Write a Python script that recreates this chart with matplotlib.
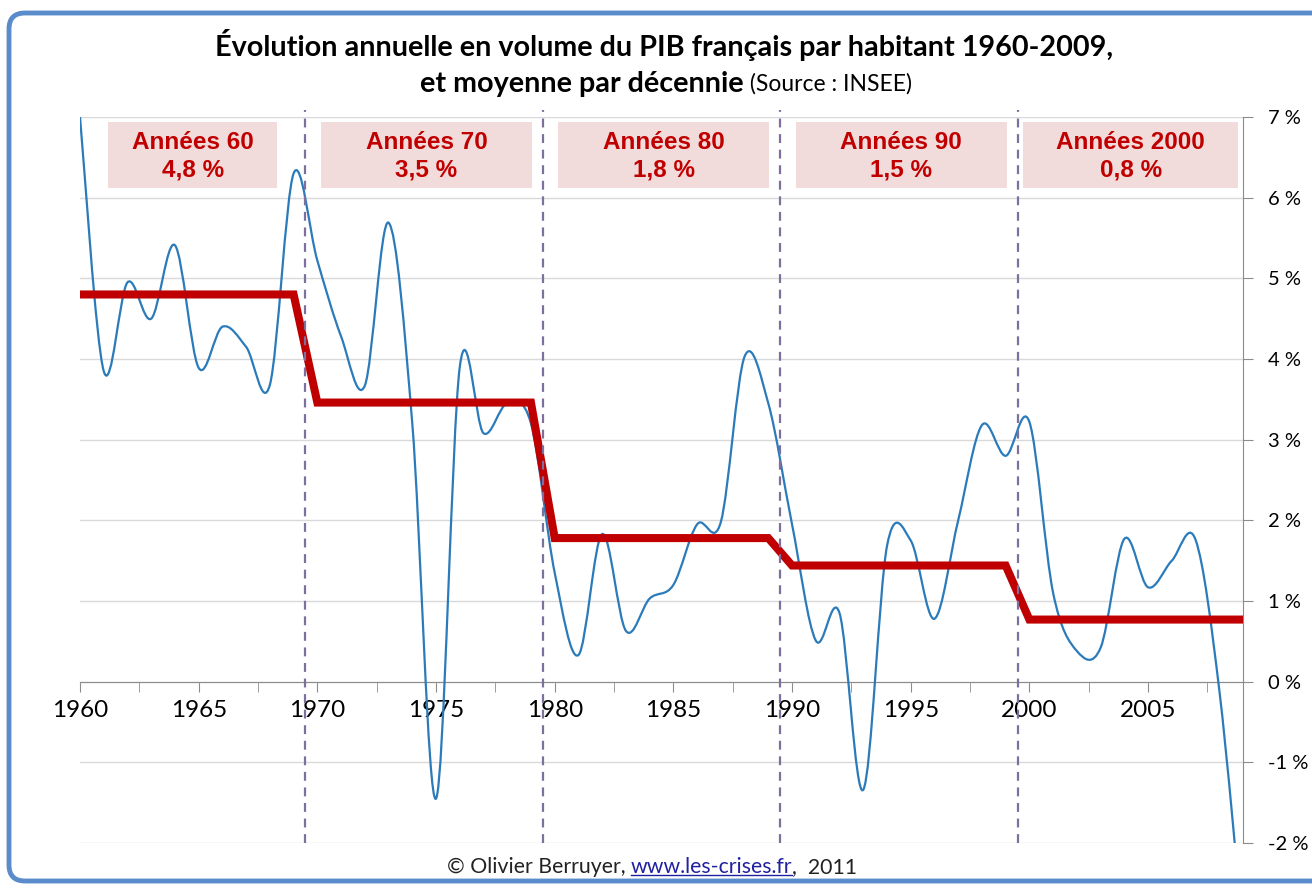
import numpy as np
import matplotlib
matplotlib.use("Agg")
import matplotlib.pyplot as plt
from matplotlib.path import Path
from matplotlib.patches import PathPatch, FancyBboxPatch, Rectangle
from matplotlib.transforms import IdentityTransform

# annual growth of French GDP per capita (volume, %)
years = list(range(1960, 2010))
growth = [7.0, 3.85, 4.95, 4.5, 5.41, 3.89, 4.40, 4.15, 3.68, 6.3,
          5.22, 4.28, 3.67, 5.69, 3.2, -1.45, 3.9, 3.08, 3.45, 3.2,
          1.35, 0.33, 1.83, 0.63, 1.03, 1.2, 1.95, 1.98, 4.03, 3.45,
          1.95, 0.51, 0.85, -1.34, 1.68, 1.75, 0.78, 2.0, 3.18, 2.8,
          3.22, 1.1, 0.38, 0.42, 1.77, 1.17, 1.5, 1.76, -0.1, -3.1]

# decade averages
decades = [1960, 1970, 1980, 1990, 2000]
decade_labels = ['Années 60', 'Années 70', 'Années 80', 'Années 90', 'Années 2000']
decade_means = [4.8, 3.46, 1.78, 1.44, 0.77]
decade_texts = ['4,8 %', '3,5 %', '1,8 %', '1,5 %', '0,8 %']

ytick_vals = list(range(-2, 8))

BLUE = '#2b7bba'
RED = '#c00000'

fig = plt.figure(figsize=(13.12, 8.88), dpi=100)
ax = fig.add_axes([80 / 1312, 1 - 843 / 888, (1243 - 80) / 1312, (843 - 117) / 888])

# smoothed line (Excel-like, Catmull-Rom as cubic Bezier segments)
pts = np.column_stack([years, growth]).astype(float)
n = len(pts)
verts = [pts[0]]
codes = [Path.MOVETO]
for i in range(n - 1):
    p0 = pts[i - 1] if i > 0 else pts[i]
    p1, p2 = pts[i], pts[i + 1]
    p3 = pts[i + 2] if i + 2 < n else pts[i + 1]
    verts += [p1 + (p2 - p0) / 6, p2 - (p3 - p1) / 6, p2]
    codes += [Path.CURVE4] * 3
ax.add_patch(PathPatch(Path(verts, codes), facecolor='none', edgecolor=BLUE,
                       lw=1.6, zorder=3))

# decade mean step line
mean_line = [decade_means[(y - 1960) // 10] for y in years]
ax.plot(years, mean_line, color=RED, lw=5.8, zorder=4, solid_joinstyle='miter')

# decade separators
for d in decades[1:]:
    ax.axvline(d - 0.5, color='#7d6f9e', lw=1.6, ls=(0, (4, 3)), zorder=5,
               ymin=0, ymax=1.01, clip_on=False)

# decade boxes
for d, lab, txt in zip(decades, decade_labels, decade_texts):
    x0, x1 = d + 0.15, d + 9.05
    if d == 1960:
        x0, x1 = d + 1.2, d + 8.3
    if d == 2000:
        x0, x1 = d - 0.25, d + 8.8
    ax.add_patch(Rectangle((x0, 6.12), x1 - x0, 0.82, facecolor='#f2dcdb',
                           edgecolor='none', zorder=2))
    cx = (x0 + x1) / 2
    ax.text(cx, 6.68, lab, ha='center', va='center', color=RED, fontsize=17.5,
            fontweight='bold', family='Liberation Sans', zorder=6)
    ax.text(cx, 6.34, txt, ha='center', va='center', color=RED, fontsize=17.5,
            fontweight='bold', family='Liberation Sans', zorder=6)

ax.set_xlim(1960, 2009)
ax.set_ylim(-2, 7)

ax.spines['left'].set_visible(False)
ax.spines['top'].set_visible(False)
ax.spines['bottom'].set_position(('data', 0))
ax.spines['bottom'].set_color('#8c8c8c')
ax.spines['right'].set_color('#8c8c8c')

ax.set_xticks(range(1960, 2010, 5))
ax.set_xticks(np.arange(1962.5, 2009, 5), minor=True)
ax.tick_params(axis='x', which='both', direction='out', length=7, color='#8c8c8c',
               labelsize=17.5, pad=6)
for t in ax.get_xticklabels():
    t.set_family('Lato')

ax.yaxis.tick_right()
ax.set_yticks(ytick_vals)
ax.set_yticklabels([f'{v} %' for v in ytick_vals], family='Lato', fontsize=14.5)
ax.tick_params(axis='y', direction='out', length=7, color='#8c8c8c', pad=11)
ax.grid(axis='y', color='#d9d9d9', lw=1)
ax.set_axisbelow(True)

# title
fig.text(664 / 1312, 1 - 45 / 888, 'Évolution annuelle en volume du PIB français par habitant 1960-2009,',
         ha='center', va='center', fontsize=20.7, fontweight='bold', family='Lato')
t1 = fig.text(0, 1 - 84 / 888, 'et moyenne par décennie', ha='left', va='center',
              fontsize=20.7, fontweight='bold', family='Lato')
t2 = fig.text(0, 1 - 84 / 888, ' (Source : INSEE)', ha='left', va='center',
              fontsize=16.5, family='Lato')

# footer
f1 = fig.text(0, 1 - 867 / 888, '© Olivier Berruyer, ', ha='left', va='center',
              fontsize=15.3, family='Lato', color='#222222')
f2 = fig.text(0, 1 - 867 / 888, 'www.les-crises.fr', ha='left', va='center',
              fontsize=15.3, family='Lato', color='#2020a0')
f3 = fig.text(0, 1 - 867 / 888, ',  2011', ha='left', va='center',
              fontsize=15.3, family='Lato', color='#222222')

fig.canvas.draw()
r = fig.canvas.get_renderer()
W = fig.bbox.width

def lay_out(parts, center_px):
    widths = [p.get_window_extent(r).width for p in parts]
    x = center_px - sum(widths) / 2
    for p, w in zip(parts, widths):
        p.set_x(x / W)
        x += w

lay_out([t1, t2], 666)
lay_out([f1, f2, f3], 652)
fig.canvas.draw()
bb = f2.get_window_extent(r)
fig.add_artist(plt.Line2D([bb.x0, bb.x1], [bb.y0 + 2, bb.y0 + 2], color='#2020a0',
                          lw=1, transform=IdentityTransform()))

# outer frame
fig.add_artist(FancyBboxPatch((9, 7), 1340, 868, boxstyle='round,pad=0,rounding_size=16',
                              facecolor='none', edgecolor='#5a8ccc', lw=3.5,
                              transform=IdentityTransform(), zorder=0))

fig.savefig('out.png', dpi=100)
